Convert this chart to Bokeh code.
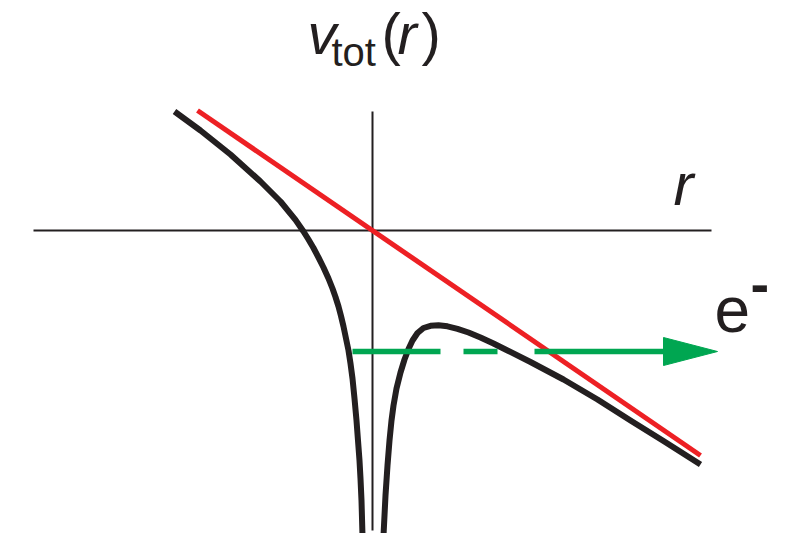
from bokeh.plotting import figure
from bokeh.models import Range1d, Label
from bokeh.embed import file_html
from bokeh.resources import INLINE

# Total potential seen by the electron: Coulomb well tilted by a strong field
# left branch (r < 0)
r_left = [-1.98, -1.72, -1.42, -1.12, -0.92, -0.77, -0.69, -0.64, -0.59, -0.54,
          -0.49, -0.44, -0.40, -0.37, -0.34, -0.315, -0.29, -0.265, -0.24,
          -0.22, -0.20, -0.18, -0.16, -0.145, -0.13, -0.12, -0.11, -0.10]
v_left = [1.19, 1.00, 0.76, 0.49, 0.29, 0.106, -0.01, -0.09, -0.175, -0.27,
          -0.37, -0.48, -0.58, -0.665, -0.76, -0.855, -0.96, -1.08, -1.20,
          -1.33, -1.48, -1.68, -1.90, -2.10, -2.30, -2.48, -2.70, -3.05]
# right branch (r > 0), with the barrier
r_right = [0.11, 0.13, 0.15, 0.17, 0.19, 0.21, 0.24, 0.28, 0.32, 0.36, 0.40,
           0.45, 0.51, 0.58, 0.66, 0.75, 0.85, 0.96, 1.08, 1.21, 1.35, 1.58,
           1.91, 2.25, 2.58, 2.91, 3.28]
v_right = [-3.05, -2.65, -2.35, -2.10, -1.90, -1.75, -1.58, -1.42, -1.29, -1.185,
           -1.10, -1.025, -0.975, -0.953, -0.948, -0.958, -0.983, -1.02, -1.07,
           -1.13, -1.20, -1.315, -1.49, -1.69, -1.90, -2.105, -2.34]

# field term alone (straight line through the origin)
r_field = [-1.75, 3.28]
v_field = [1.20, -2.25]

# bound level and the electron's path out of the well
level = -1.21
path_solid_in = [-0.20, 0.68]
path_dash = [0.91, 1.25]
path_solid_out = [1.62, 2.91]
arrow_tip = 3.45

# coordinate axes extents
haxis = [-3.39, 3.39]
vaxis = [-3.00, 1.19]

BLACK = "#231f20"
RED = "#ed2024"
GREEN = "#00a651"
FONT = "Liberation Sans"

p = figure(width=786, height=533, output_backend="svg", toolbar_location=None,
           x_axis_type=None, y_axis_type=None,
           x_range=Range1d(-3.72, 4.14), y_range=Range1d(-3.03, 2.30),
           min_border=0)
p.grid.visible = False
p.outline_line_color = None
p.background_fill_color = "white"

# axes
p.line(haxis, [0, 0], line_color=BLACK, line_width=2)
p.line([0, 0], vaxis, line_color=BLACK, line_width=2)

# field line
p.line(r_field, v_field, line_color=RED, line_width=5)

# potential curve
p.line(r_left, v_left, line_color=BLACK, line_width=6, line_join="round")
p.line(r_right, v_right, line_color=BLACK, line_width=6, line_join="round")

# electron path: solid, dashed through the barrier, solid outside
for seg in (path_solid_in, path_dash, path_solid_out):
    p.line(seg, [level, level], line_color=GREEN, line_width=5.5)
head_half = 0.14
p.patch([path_solid_out[1], arrow_tip, path_solid_out[1]],
        [level + head_half, level, level - head_half],
        fill_color=GREEN, line_color=GREEN, line_width=1)

# labels, placed in page pixels (100 px per data unit, origin at 372, 230)
def px(x, y):
    return (x - 372) / 100.0, (230 - y) / 100.0

def lab(text, x, y, size, style="normal"):
    dx, dy = px(x, y)
    p.add_layout(Label(x=dx, y=dy, text=text, text_font=FONT,
                       text_font_size=f"{size}px", text_font_style=style,
                       text_color=BLACK, text_baseline="alphabetic",
                       text_align="left"))

lab("v", 307, 33, 58, "italic")
lab("tot", 331, 51, 40)
lab("(", 381, 33, 58)
lab("r", 397, 33, 58, "italic")
lab(")", 421, 33, 58)

lab("r", 673, 184, 60, "italic")
lab("e", 714, 309, 64)
lab("-", 750, 283, 56, "bold")

open("out.html", "w").write(file_html(p, INLINE))
